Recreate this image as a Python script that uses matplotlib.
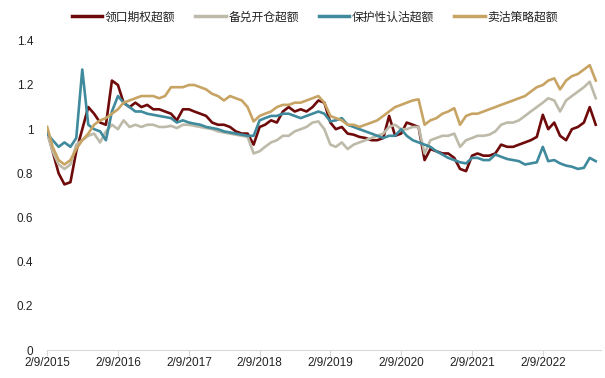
import matplotlib
matplotlib.use("Agg")
import matplotlib.pyplot as plt
import pandas as pd

# monthly samples, starting 2015-02-09
dates = pd.date_range("2015-02-09", periods=94, freq=pd.DateOffset(months=1))

collar = [
    0.99, 0.90, 0.80, 0.75, 0.76, 0.90, 1.00, 1.10, 1.07, 1.03,
    1.02, 1.22, 1.20, 1.12, 1.10, 1.12, 1.10, 1.11, 1.09, 1.09,
    1.08, 1.07, 1.04, 1.09, 1.09, 1.08, 1.07, 1.06, 1.03, 1.02,
    1.02, 1.01, 0.99, 0.98, 0.98, 0.93, 1.01, 1.02, 1.04, 1.03,
    1.08, 1.10, 1.08, 1.09, 1.08, 1.10, 1.13, 1.12, 1.03, 1.00,
    1.01, 0.98, 0.975, 0.965, 0.96, 0.95, 0.95, 0.96, 1.06, 0.97,
    0.98, 1.03, 1.02, 1.01, 0.86, 0.91, 0.90, 0.89, 0.89, 0.87,
    0.82, 0.81, 0.88, 0.89, 0.88, 0.88, 0.89, 0.93, 0.92, 0.92,
    0.93, 0.94, 0.95, 0.965, 1.065, 1.00, 1.03, 0.97, 0.95, 1.00,
    1.01, 1.03, 1.10, 1.02,
]
covered_call = [
    0.98, 0.90, 0.84, 0.82, 0.84, 0.93, 0.95, 0.97, 0.98, 0.94,
    0.99, 1.02, 1.00, 1.04, 1.01, 1.02, 1.01, 1.02, 1.02, 1.01,
    1.01, 1.015, 1.005, 1.02, 1.02, 1.015, 1.01, 1.005, 1.00, 0.99,
    0.985, 0.98, 0.975, 0.97, 0.965, 0.89, 0.90, 0.92, 0.94, 0.95,
    0.97, 0.97, 0.99, 1.00, 1.01, 1.03, 1.035, 1.00, 0.93, 0.92,
    0.94, 0.91, 0.93, 0.94, 0.95, 0.96, 0.97, 0.98, 1.01, 1.02,
    1.00, 1.00, 1.01, 1.01, 0.89, 0.95, 0.96, 0.97, 0.97, 0.98,
    0.92, 0.95, 0.96, 0.97, 0.97, 0.975, 0.99, 1.02, 1.03, 1.03,
    1.04, 1.06, 1.08, 1.10, 1.12, 1.14, 1.13, 1.08, 1.13, 1.15,
    1.17, 1.19, 1.215, 1.14,
]
protective_put = [
    0.98, 0.95, 0.92, 0.94, 0.92, 0.96, 1.27, 1.02, 1.00, 0.99,
    0.95, 1.08, 1.15, 1.12, 1.10, 1.08, 1.08, 1.07, 1.065, 1.06,
    1.055, 1.05, 1.03, 1.04, 1.03, 1.025, 1.02, 1.01, 1.005, 1.00,
    0.99, 0.985, 0.98, 0.975, 0.97, 0.97, 1.04, 1.05, 1.06, 1.06,
    1.07, 1.07, 1.06, 1.05, 1.06, 1.07, 1.08, 1.07, 1.035, 1.04,
    1.05, 1.02, 1.01, 1.00, 0.99, 0.98, 0.97, 0.96, 0.97, 0.97,
    1.00, 0.97, 0.95, 0.94, 0.93, 0.92, 0.90, 0.885, 0.87, 0.86,
    0.85, 0.845, 0.87, 0.87, 0.86, 0.86, 0.885, 0.875, 0.865, 0.86,
    0.855, 0.84, 0.845, 0.85, 0.92, 0.855, 0.86, 0.845, 0.835, 0.83,
    0.82, 0.825, 0.87, 0.855,
]
short_put = [
    1.01, 0.92, 0.86, 0.84, 0.86, 0.91, 0.95, 0.98, 1.02, 1.04,
    1.05, 1.07, 1.09, 1.12, 1.13, 1.14, 1.15, 1.15, 1.15, 1.14,
    1.15, 1.19, 1.19, 1.19, 1.20, 1.20, 1.19, 1.18, 1.16, 1.15,
    1.13, 1.15, 1.14, 1.13, 1.10, 1.035, 1.06, 1.07, 1.08, 1.10,
    1.11, 1.11, 1.12, 1.12, 1.13, 1.14, 1.15, 1.12, 1.06, 1.05,
    1.04, 1.02, 1.02, 1.01, 1.02, 1.03, 1.04, 1.06, 1.08, 1.10,
    1.11, 1.12, 1.13, 1.135, 1.02, 1.04, 1.05, 1.07, 1.08, 1.095,
    1.02, 1.06, 1.07, 1.07, 1.08, 1.09, 1.10, 1.11, 1.12, 1.13,
    1.14, 1.15, 1.17, 1.19, 1.20, 1.22, 1.23, 1.18, 1.22, 1.24,
    1.25, 1.27, 1.29, 1.22,
]

series = [
    ("领口期权超额", collar, "#6E0A0A"),
    ("备兑开仓超额", covered_call, "#BDBAA9"),
    ("保护性认沽超额", protective_put, "#3F8A9C"),
    ("卖沽策略超额", short_put, "#C7A463"),
]
tick_dates = pd.to_datetime([f"{y}-02-09" for y in range(2015, 2023)])
tick_labels = [f"2/9/{y}" for y in range(2015, 2023)]

plt.rcParams["font.family"] = ["Liberation Sans", "Noto Sans CJK SC", "DejaVu Sans"]

fig = plt.figure(figsize=(6.05, 3.78), dpi=100)
ax = fig.add_axes([0.078, 0.074, 0.915, 0.818])

for label, vals, color in series:
    ax.plot(dates, vals, color=color, lw=1.9, label=label, solid_joinstyle="round")

ax.set_ylim(0, 1.4)
ax.set_yticks([0, 0.2, 0.4, 0.6, 0.8, 1.0, 1.2, 1.4])
ax.set_yticklabels(["0", "0.2", "0.4", "0.6", "0.8", "1", "1.2", "1.4"])
ax.set_xlim(pd.Timestamp("2015-02-09"), pd.Timestamp("2022-12-05"))
ax.set_xticks(tick_dates)
ax.set_xticklabels(tick_labels)

for side in ("top", "right", "left"):
    ax.spines[side].set_visible(False)
ax.spines["bottom"].set_color("#D9D9D9")
ax.tick_params(axis="y", length=0, pad=10, labelsize=8.5, colors="#222222")
ax.tick_params(axis="x", length=4, color="#D9D9D9", pad=1, labelsize=8.5, labelcolor="#222222")

leg = fig.legend(loc="upper center", bbox_to_anchor=(0.52, 1.0), ncol=4, frameon=False,
                 prop={"family": ["Noto Sans CJK SC", "DejaVu Sans"], "size": 8.5},
                 handlelength=2.6, handletextpad=0.2, columnspacing=1.7)
for line in leg.get_lines():
    line.set_linewidth(2.5)
for text in leg.get_texts():
    text.set_color("#222222")

fig.savefig("out.png", dpi=100)
